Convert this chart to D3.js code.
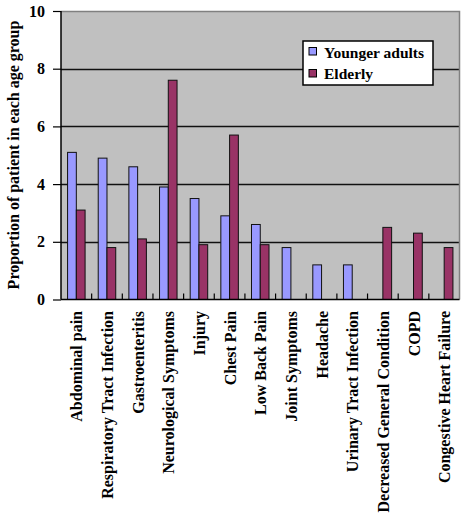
<!DOCTYPE html>
<html><head><meta charset="utf-8">
<script src="https://cdn.jsdelivr.net/npm/d3@7"></script>
</head><body style="margin:0;background:#fff"><svg id="c" width="462" height="522" style="display:block" font-family="Liberation Serif" font-weight="bold"></svg>
<script>
const categories = ["Abdominal pain","Respiratory Tract Infection","Gastroenteritis","Neurological Symptoms","Injury","Chest Pain","Low Back Pain","Joint Symptoms","Headache","Urinary Tract Infection","Decreased General Condition","COPD","Congestive Heart Failure"];
const younger = [5.1,4.9,4.6,3.9,3.5,2.9,2.6,1.8,1.2,1.2,0,0,0];
const elderly = [3.1,1.8,2.1,7.6,1.9,5.7,1.9,0,0,0,2.5,2.3,1.8];
const seriesNames = ["Younger adults","Elderly"];
const colors = ["#9999FF","#993366"];
const yTicks = [0,2,4,6,8,10];

const FONT = "Liberation Serif";
const svg = d3.select("#c");
const L=61, R=459.5, T=11, B=299.5;
const x = d3.scaleBand().domain(categories).range([L,R]).paddingInner(0).paddingOuter(0);
const y = d3.scaleLinear().domain([0,10]).range([B,T]);
const bw = x.bandwidth()/3.5;
const off = (x.bandwidth()-2*bw)/2;

svg.append("rect").attr("x",L).attr("y",T).attr("width",R-L).attr("height",B-T).attr("fill","#C0C0C0");
svg.append("g").selectAll("line").data(yTicks.filter(d=>d>0&&d<10)).join("line")
  .attr("x1",L).attr("x2",R).attr("y1",d=>Math.round(y(d))+0.5).attr("y2",d=>Math.round(y(d))+0.5)
  .attr("stroke","#111").attr("stroke-width",1.3);
svg.append("path").attr("d",`M${L},${T+0.5}H${R}V${B}`).attr("fill","none").attr("stroke","#808080").attr("stroke-width",1.5);

const series=[younger,elderly];
series.forEach((vals,si)=>{
  svg.append("g").selectAll("rect").data(vals.map((v,i)=>({c:categories[i],v}))).join("rect")
    .filter(d=>d.v>0)
    .attr("x",d=>x(d.c)+off+si*bw).attr("width",bw)
    .attr("y",d=>y(d.v)).attr("height",d=>B-y(d.v))
    .attr("fill",colors[si]).attr("stroke","#111").attr("stroke-width",1);
});

const ya = d3.axisLeft(y).tickValues(yTicks).tickSize(8).tickPadding(8).tickFormat(d3.format("d"));
const gy = svg.append("g").attr("transform",`translate(${L},0)`).call(ya);
gy.attr("font-family",FONT).attr("font-size",16).attr("font-weight","bold");
gy.select(".domain").attr("stroke","#000").attr("stroke-width",1.5).attr("d",`M0,${T}V${B}`);
gy.selectAll(".tick line").attr("stroke","#000").attr("stroke-width",1.2);
gy.selectAll(".tick text").attr("font-family",FONT).attr("font-weight","bold").attr("font-size",16).attr("fill","#000");

const xa = d3.axisBottom(x).tickSize(0).tickFormat("");
const gx = svg.append("g").attr("transform",`translate(0,${B})`).call(xa);
gx.select(".domain").attr("stroke","#000").attr("stroke-width",1.5).attr("d",`M${L},0H${R}`);
svg.append("g").selectAll("line").data(categories.slice(1)).join("line")
  .attr("x1",d=>x(d)).attr("x2",d=>x(d)).attr("y1",B-6).attr("y2",B)
  .attr("stroke","#000").attr("stroke-width",1.2);
svg.append("g").selectAll("text").data(categories).join("text")
  .attr("transform",d=>`translate(${x(d)+x.bandwidth()/2+6},311) rotate(-90)`)
  .attr("text-anchor","end").attr("font-family",FONT).attr("font-weight","bold").attr("font-size",16).text(d=>d);

svg.append("text").attr("transform",`translate(19,155) rotate(-90)`).attr("text-anchor","middle")
  .attr("font-family",FONT).attr("font-weight","bold").attr("font-size",16).text("Proportion of patient in each age group");

const lg = svg.append("g");
lg.append("rect").attr("x",303).attr("y",41).attr("width",130).attr("height",44).attr("fill","#fff").attr("stroke","#000").attr("stroke-width",1.5);
seriesNames.forEach((n,i)=>{
  lg.append("rect").attr("x",309).attr("y",47.5+i*22).attr("width",7.5).attr("height",7.5).attr("fill",colors[i]).attr("stroke","#000").attr("stroke-width",1);
  lg.append("text").attr("x",324).attr("y",57.5+i*21.5).attr("font-family",FONT).attr("font-weight","bold").attr("font-size",15.5).text(n);
});
</script></body></html>
